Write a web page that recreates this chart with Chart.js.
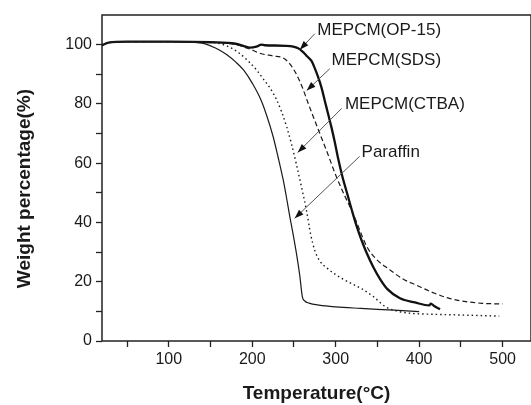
<!DOCTYPE html>
<html>
<head>
<meta charset="utf-8">
<script src="https://cdn.jsdelivr.net/npm/chart.js@4/dist/chart.umd.min.js"></script>
<style>
  html, body { margin: 0; padding: 0; background: #fff; }
  #wrap { width: 531px; height: 405px; }
</style>
</head>
<body>
<div id="wrap"><canvas id="tga"></canvas></div>
<script>
// TGA curves (temperature in C, weight in %)
const paraffinT = [20, 28, 50, 100, 140, 150, 160, 170, 180, 190, 200, 211, 218, 225, 231, 237, 241, 245, 249, 253, 257, 260, 263, 268, 280, 300, 330, 370, 400];
const paraffinW = [99.8, 100.7, 101, 101, 100.5, 99.6, 98.3, 96.5, 94.2, 91.3, 87, 81, 75.5, 69, 62, 54.5, 48.5, 42, 36, 29.5, 22, 15, 13.5, 12.8, 12.1, 11.5, 11, 10.4, 9.9];

const ctbaT = [20, 28, 50, 100, 150, 170, 185, 195, 205, 213, 221, 229, 235, 241, 247, 253, 259, 265, 270, 275, 281, 290, 305, 318, 332, 345, 360, 375, 392, 420, 460, 496];
const ctbaW = [99.8, 100.7, 101, 101, 100.8, 99.5, 97, 94.5, 91.5, 88.5, 85.5, 81.5, 77.5, 72.5, 66.5, 59.5, 52, 44, 36, 30.5, 27, 24.5, 21.5, 19.5, 17.5, 15, 11.5, 10, 9.3, 9, 8.7, 8.4];

const sdsT = [20, 28, 50, 100, 150, 180, 197, 210, 225, 237, 245, 252, 260, 266, 272, 281, 290, 300, 310, 320, 328, 337, 348, 365, 380, 397, 415, 436, 456, 476, 500];
const sdsW = [99.8, 100.7, 101, 101, 100.8, 100, 98.5, 97, 96.2, 95.5, 93.5, 90.5, 85.6, 81, 76.5, 70, 63.5, 56, 49.5, 43.5, 38, 32, 27.8, 24, 21, 18.8, 16.5, 14.4, 13.3, 12.7, 12.5];

const op15T = [20, 28, 50, 100, 150, 180, 190, 197, 205, 211, 215, 240, 255, 261, 266, 271, 275, 279, 283, 287, 291, 295, 299, 303, 308, 314, 320, 326, 331, 337, 345, 353, 362, 377, 395, 412, 414, 418, 425];
const op15W = [99.8, 100.7, 101, 101, 100.8, 100.3, 99.5, 99, 99.3, 100, 99.8, 99.6, 98.8, 97.5, 96, 94.5, 92, 89, 85.5, 81, 76.5, 72, 67, 61.5, 55.5, 49.5, 43.5, 38, 34, 29.8, 25, 21, 17.5, 14.4, 13, 12, 12.6, 11.8, 10.7];

const xTicks = [50, 100, 150, 200, 250, 300, 350, 400, 450, 500];
const yTicks = [0, 10, 20, 30, 40, 50, 60, 70, 80, 90, 100];

// labels with arrows: text anchor and arrow from/to, in data units
const notes = [
  { text: 'MEPCM(OP-15)', x: 278, y: 105, from: [275, 103.7], to: [257, 98.3] },
  { text: 'MEPCM(SDS)', x: 295, y: 94.6, from: [293, 91.9], to: [265.3, 84.5] },
  { text: 'MEPCM(CTBA)', x: 311, y: 79.8, from: [307.2, 78.5], to: [254.5, 63.6] },
  { text: 'Paraffin', x: 331, y: 63.6, from: [328.7, 62.3], to: [250.9, 41.4] }
];

function pts(t, w) { return t.map((v, i) => ({ x: v, y: w[i] })); }

const frame = {
  id: 'frame',
  beforeDatasetsDraw(chart) {
    const a = chart.chartArea, c = chart.ctx;
    c.save();
    c.strokeStyle = '#222';
    c.lineWidth = 1.5;
    c.strokeRect(a.left, a.top, a.right - a.left, a.bottom - a.top);
    c.restore();
  },
  afterDatasetsDraw(chart) {
    const xs = chart.scales.x, ys = chart.scales.y, c = chart.ctx;
    c.save();
    c.font = '17px "Liberation Sans", Arial, sans-serif';
    c.textBaseline = 'middle';
    notes.forEach(n => {
      c.fillStyle = '#1a1a1a';
      c.fillText(n.text, xs.getPixelForValue(n.x), ys.getPixelForValue(n.y));
      const x1 = xs.getPixelForValue(n.from[0]), y1 = ys.getPixelForValue(n.from[1]);
      const x2 = xs.getPixelForValue(n.to[0]), y2 = ys.getPixelForValue(n.to[1]);
      c.strokeStyle = '#555';
      c.lineWidth = 1;
      c.beginPath(); c.moveTo(x1, y1); c.lineTo(x2, y2); c.stroke();
      const ang = Math.atan2(y2 - y1, x2 - x1), L = 9, W = 3.2;
      c.fillStyle = '#111';
      c.beginPath();
      c.moveTo(x2, y2);
      c.lineTo(x2 - L * Math.cos(ang) + W * Math.sin(ang), y2 - L * Math.sin(ang) - W * Math.cos(ang));
      c.lineTo(x2 - L * Math.cos(ang) - W * Math.sin(ang), y2 - L * Math.sin(ang) + W * Math.cos(ang));
      c.closePath(); c.fill();
    });
    c.restore();
  }
};

const tickFont = { family: '"Liberation Sans", Arial, sans-serif', size: 16 };
const titleFont = { family: '"Liberation Sans", Arial, sans-serif', size: 19, weight: 'bold' };

new Chart(document.getElementById('tga').getContext('2d'), {
  type: 'line',
  data: {
    datasets: [
      { label: 'Paraffin', data: pts(paraffinT, paraffinW), borderColor: '#1a1a1a', borderWidth: 1.2 },
      { label: 'MEPCM(CTBA)', data: pts(ctbaT, ctbaW), borderColor: '#1a1a1a', borderWidth: 1.4, borderDash: [1.5, 3] },
      { label: 'MEPCM(SDS)', data: pts(sdsT, sdsW), borderColor: '#1a1a1a', borderWidth: 1.2, borderDash: [5, 3] },
      { label: 'MEPCM(OP-15)', data: pts(op15T, op15W), borderColor: '#111', borderWidth: 2.3 }
    ]
  },
  options: {
    responsive: true,
    maintainAspectRatio: false,
    animation: false,
    elements: { point: { radius: 0 }, line: { cubicInterpolationMode: 'monotone', fill: false } },
    layout: { padding: { top: 15, right: 0, left: 0, bottom: 0 } },
    plugins: { legend: { display: false }, tooltip: { enabled: false } },
    scales: {
      x: {
        type: 'linear', min: 20, max: 534,
        afterBuildTicks: s => { s.ticks = xTicks.map(v => ({ value: v })); },
        afterFit: s => { s.height = 64; },
        border: { display: false },
        grid: { drawOnChartArea: false, drawTicks: true, tickLength: 6, tickColor: '#222', tickWidth: 1.3 },
        ticks: { font: tickFont, color: '#1a1a1a', padding: 3, maxRotation: 0, autoSkip: false,
                 callback: v => (v % 100 === 0 ? v : '') },
        title: { display: true, text: 'Temperature(°C)', font: titleFont, color: '#1a1a1a', padding: { top: 0, bottom: 0 } }
      },
      y: {
        min: 0, max: 110,
        afterBuildTicks: s => { s.ticks = yTicks.map(v => ({ value: v })); },
        afterFit: s => { s.width = 102; },
        border: { display: false },
        grid: { drawOnChartArea: false, drawTicks: true, tickLength: 6, tickColor: '#222', tickWidth: 1.3 },
        ticks: { font: tickFont, color: '#1a1a1a', padding: 4, autoSkip: false,
                 callback: v => (v % 20 === 0 ? v : '') },
        title: { display: true, text: 'Weight percentage(%)    ', font: titleFont, color: '#1a1a1a', padding: { top: 13, bottom: 0 } }
      }
    }
  },
  plugins: [frame]
});
</script>
</body>
</html>
